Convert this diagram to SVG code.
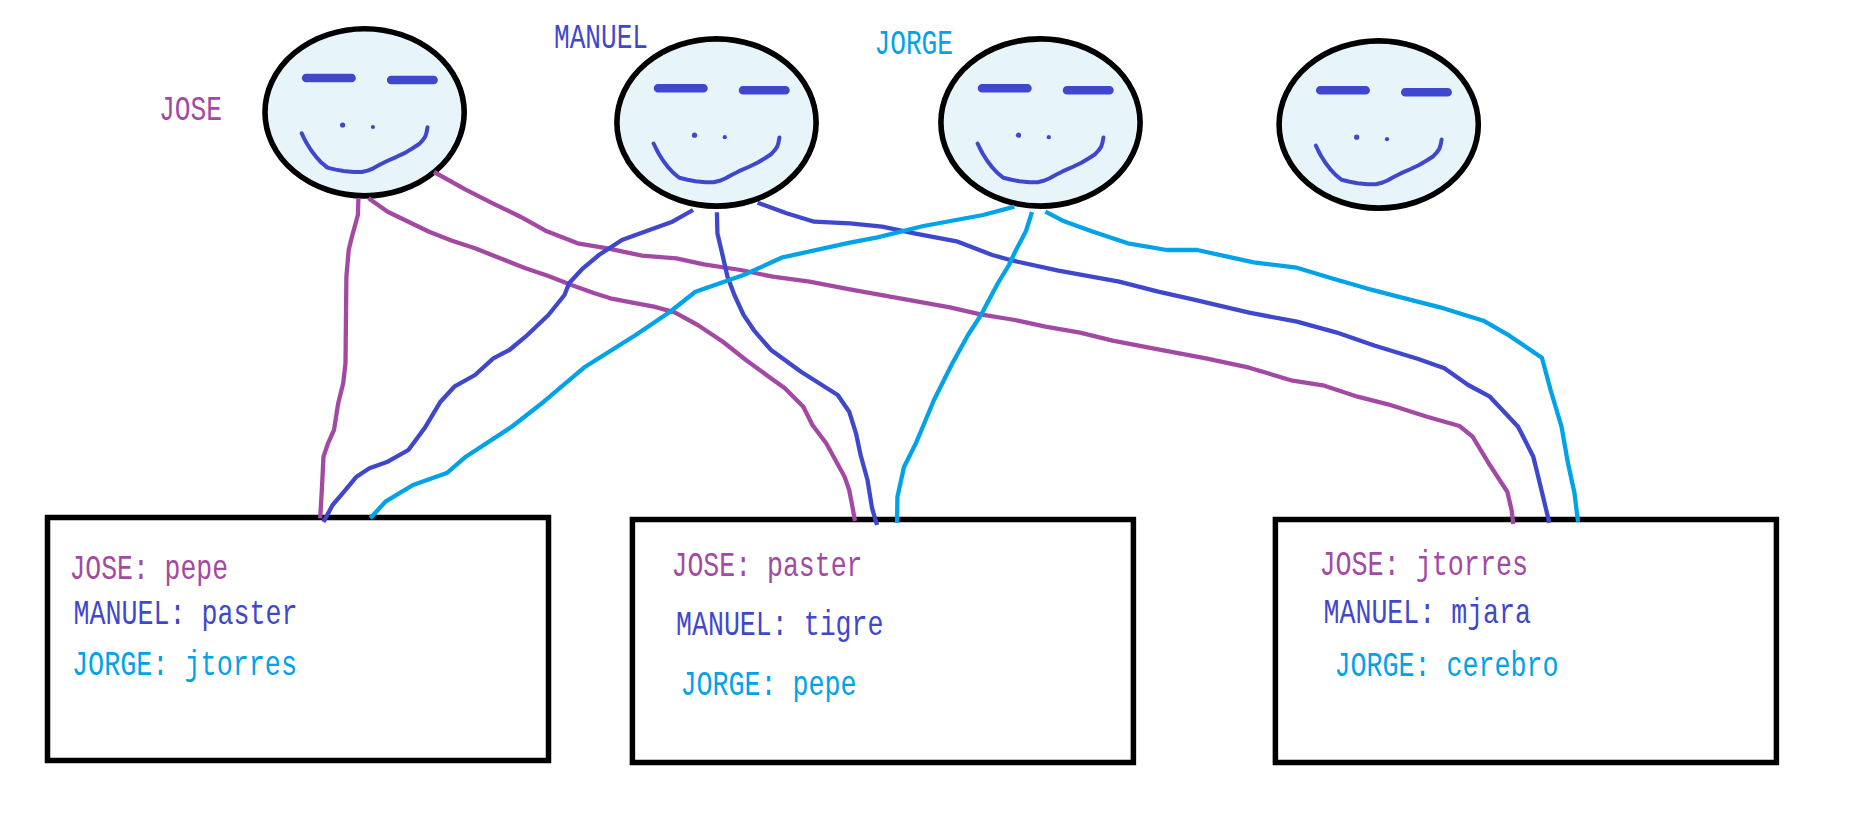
<svg xmlns="http://www.w3.org/2000/svg" width="1871" height="826" viewBox="0 0 1871 826">
<style>
text{font-family:"Liberation Mono","DejaVu Sans Mono",monospace;font-size:35px}
.jose{fill:#A349A4}.manuel{fill:#3F48CC}.jorge{fill:#00A2E8}
.box{fill:#fff;stroke:#000;stroke-width:5.5}
.c{fill:none;stroke-width:4.3;stroke-linejoin:round;stroke-linecap:butt}
.cj{stroke:#A349A4}.cm{stroke:#3F48CC}.cg{stroke:#00A2E8}
</style>
<defs>
<g id="face">
<ellipse rx="99.6" ry="83.6" fill="#E7F4FA" stroke="#000" stroke-width="5.6"/>
<path d="M-58.5-34.3H-13M26.5-32.3H69" fill="none" stroke="#3F48CC" stroke-width="8.5" stroke-linecap="round"/>
<circle cx="-22" cy="12.7" r="2.6" fill="#3F48CC"/>
<circle cx="8.3" cy="14.7" r="2.1" fill="#3F48CC"/>
<polyline points="-62.9,21 -60.5,26 -57.9,31 -53.5,38 -48.7,44.3 -43,50.5 -37.2,55.3 -29,57.3 -21.1,58.7 -11,59.7 -2.8,59.7 3,58.3 8.7,56 15,52.5 22.5,48.7 32,44.5 40.9,40.3 48,36 54.6,31.7 58,28 60.6,24.3 62,20 62.9,15" fill="none" stroke="#3F48CC" stroke-width="4" stroke-linejoin="round" stroke-linecap="round"/>
</g>
</defs>
<g id="person-jose"><use href="#face" x="364.6" y="112.3"/><text class="jose" x="159" y="120" textLength="63" lengthAdjust="spacingAndGlyphs">JOSE</text></g>
<g id="person-manuel"><use href="#face" x="716.5" y="122.5"/><text class="manuel" x="554" y="48.3" textLength="94" lengthAdjust="spacingAndGlyphs">MANUEL</text></g>
<g id="person-jorge"><use href="#face" x="1040.5" y="122.5"/><text class="jorge" x="874.5" y="54.3" textLength="78.5" lengthAdjust="spacingAndGlyphs">JORGE</text></g>
<g id="person-4"><use href="#face" x="1378.7" y="124.5"/></g>
<g id="box-1"><rect class="box" x="47.5" y="517.5" width="501" height="243"/>
<text class="jose" x="69.5" y="579.3" textLength="158.5" lengthAdjust="spacingAndGlyphs">JOSE: pepe</text>
<text class="manuel" x="73.5" y="624" textLength="224" lengthAdjust="spacingAndGlyphs">MANUEL: paster</text>
<text class="jorge" x="72" y="674.7" textLength="225" lengthAdjust="spacingAndGlyphs">JORGE: jtorres</text></g>
<g id="box-2"><rect class="box" x="632.4" y="519.5" width="501" height="243"/>
<text class="jose" x="671.5" y="576" textLength="191" lengthAdjust="spacingAndGlyphs">JOSE: paster</text>
<text class="manuel" x="676" y="634.7" textLength="207.5" lengthAdjust="spacingAndGlyphs">MANUEL: tigre</text>
<text class="jorge" x="680.5" y="695" textLength="176" lengthAdjust="spacingAndGlyphs">JORGE: pepe</text></g>
<g id="box-3"><rect class="box" x="1275.4" y="519.5" width="501" height="243"/>
<text class="jose" x="1319.5" y="575" textLength="208.5" lengthAdjust="spacingAndGlyphs">JOSE: jtorres</text>
<text class="manuel" x="1323.5" y="622.7" textLength="207.5" lengthAdjust="spacingAndGlyphs">MANUEL: mjara</text>
<text class="jorge" x="1334.5" y="675.7" textLength="224" lengthAdjust="spacingAndGlyphs">JORGE: cerebro</text></g>
<g id="connectors">
<polyline class="c cj" points="358.4,198.3 357.9,215 351.9,236.7 348.7,250 346.4,276.7 346,313.3 345.5,363.3 343.2,383.3 338.2,403.3 334,430 328,443.3 323.5,456.7 322,486.7 320.2,518.3"/>
<polyline class="c cj" points="368.5,198.3 387.7,211.7 408.4,221.7 429.1,231.7 452,240.7 475,248.3 500.2,258.3 525.5,268.3 548.4,276 571.4,285 594.4,293.3 610.4,298.3 631.1,302.3 654,306.7 674.7,312.3 697.7,325 722.9,341.7 745.9,360 768.8,376.7 784.9,388.3 803.3,406.7 812.4,425 826.2,443.3 835.4,460 844.6,476.7 849.2,490 852.4,506.7 855,521"/>
<polyline class="c cj" points="434,172 465.2,189.3 492.7,203.3 520.3,216.7 545.5,230.7 577.6,243.3 607.5,248.3 642,255.7 676.4,258.3 703.9,264.3 740.7,270 772.8,276.7 809.5,281.7 849.9,289.3 950,307.3 980.4,314.3 1015,320 1045.4,326.7 1080.1,332.7 1112.6,340.7 1158.2,349.3 1205.9,358.3 1249.2,367.7 1292.6,380.7 1322.9,385.3 1357.6,396.7 1388,404.3 1427,416.7 1459.5,426 1472.6,436.7 1487.7,461.7 1507.3,491.7 1511.6,510 1513.3,524"/>
<polyline class="c cm" points="693.1,210 672.4,221.7 649.4,230 621.9,240 598.9,255 582.9,268.3 569.1,283.3 564.5,295 548.4,315 525.5,336.7 509.4,350 493.3,358.3 475,375 454.3,386.7 440.5,401.7 424.5,428.3 408.4,450 387.7,461.7 369.4,468.3 356.5,476.7 344.1,491.7 332.6,505 323.5,522"/>
<polyline class="c cm" points="716.9,212.3 717.4,233.3 722.9,256.7 727.5,276.7 734.4,295 743.6,315 755,331.7 771.1,350 801,371.7 837.7,395 849.2,411.7 856,433.3 860.6,455 867.5,480 872.1,508.3 877,525"/>
<polyline class="c cm" points="757.6,202.7 786.6,213.3 814.1,221.7 850,223.3 882.1,226.7 914.3,233.3 957.9,241.7 992.3,255 1012.9,260.7 1058.4,270.7 1119.1,281.7 1158.2,291.7 1192.8,299.3 1249.2,312.7 1296.9,321.7 1336,332.3 1375,345.7 1418.3,359 1444.4,368.3 1468.2,385 1489.9,396.7 1518.1,426.7 1533.3,456.7 1539.8,483.3 1549.3,522.7"/>
<polyline class="c cg" points="1014.4,206.7 983.1,215 923.5,226 877.5,237.3 850,242.7 782.6,257.3 743.6,275 695.4,291.7 670.1,311.7 635.7,335 585.2,366.7 543.8,401.7 511.7,426.7 465.8,456.7 447.4,472.7 413,485 385.4,501.7 370.3,518.3"/>
<polyline class="c cg" points="1032,212 1026,231 1015,252 1009,265 998,283 981,315 968,335 952,364 934,400 916,443 904,467 897.4,497 897,523"/>
<polyline class="c cg" points="1045.4,211.7 1062.7,220.7 1093.1,231.7 1127.8,243.3 1166.8,250 1197.2,250 1253.6,262.3 1296.9,267.7 1331.6,278.3 1366.3,288.3 1401,297.3 1440,307.3 1483.4,320.7 1509.4,335.7 1541.9,357.7 1550.6,390 1561.5,426.7 1568,463.3 1574.5,493.3 1578,521.7"/>
</g>
</svg>
